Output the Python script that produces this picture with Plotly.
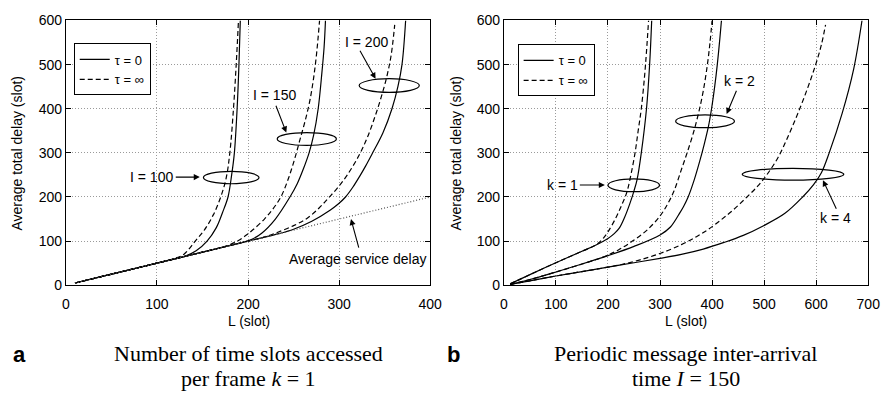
import plotly.graph_objects as go

# ---------------- data ----------------
# Panel a: k = 1, I = 100 / 150 / 200
a_i100_t0_L = [10, 50, 100, 115, 130, 143, 155, 165, 172, 178, 182, 185, 188, 190, 191.5]
a_i100_t0_D = [5, 25, 50, 57.5, 65, 78, 100, 130, 165, 200, 250, 300, 400, 500, 600]
a_i100_ti_L = [10, 50, 100, 110, 120, 130, 142, 152, 162, 170, 176, 180, 184, 187, 189.5]
a_i100_ti_D = [5, 25, 50, 55, 61, 71, 100, 125, 160, 200, 243, 300, 400, 500, 600]

a_i150_t0_L = [10, 50, 100, 150, 176, 190, 203, 215, 230, 246, 254, 261, 267, 272, 277, 281, 283.5, 285]
a_i150_t0_D = [5, 25, 50, 75, 88, 95, 103, 118, 150, 200, 230, 265, 300, 340, 400, 480, 540, 600]
a_i150_ti_L = [10, 50, 100, 150, 170, 180, 189, 197, 205, 218, 227, 236, 244, 251, 257, 263, 268, 272, 275.5, 278.5]
a_i150_ti_D = [5, 25, 50, 75, 85, 92, 101, 112, 125, 150, 172, 200, 240, 285, 330, 375, 420, 470, 530, 600]

a_i200_t0_L = [10, 50, 100, 150, 200, 234, 250, 270, 290, 299, 307, 315, 322, 329, 336, 348, 358, 364.5, 369, 373]
a_i200_t0_D = [5, 25, 50, 75, 100, 117, 127, 145, 170, 184, 200, 222, 245, 270, 297, 345, 400, 450, 500, 600]
a_i200_ti_L = [10, 50, 100, 150, 200, 216, 230, 250, 265, 278, 288, 298, 309, 322, 331, 339, 346, 352, 357, 361]
a_i200_ti_D = [5, 25, 50, 75, 100, 108, 118, 135, 152, 175, 197, 220, 250, 295, 335, 380, 425, 470, 520, 590]

service_L = [10, 400]
service_D = [5, 200]

# Panel b: I = 150, k = 1 / 2 / 4
b_k1_t0_L = [12, 50, 100, 150, 175, 190, 200, 212, 222, 232, 242, 250, 256, 264, 274, 280, 284]
b_k1_t0_D = [3, 24, 51, 77, 90, 99, 106, 117, 130, 154, 185, 214, 240, 300, 400, 500, 600]
b_k1_ti_L = [12, 50, 100, 150, 175, 183, 192, 200, 214, 225, 236, 244, 252, 258, 264, 270, 274, 278]
b_k1_ti_D = [3, 24, 51, 77, 90, 97, 108, 121, 150, 178, 210, 250, 300, 350, 400, 470, 530, 600]

b_k2_t0_L = [12, 50, 100, 150, 200, 250, 300, 320, 338, 345, 354, 366, 376, 385, 393, 399, 405, 410, 415, 418]
b_k2_t0_D = [2, 13, 30, 48, 67, 88, 114, 132, 164, 178, 200, 240, 280, 320, 360, 400, 450, 500, 560, 600]
b_k2_ti_L = [12, 50, 100, 150, 189, 220, 247, 275, 300, 315, 327, 341, 352, 364, 374, 383, 391, 396, 400]
b_k2_ti_D = [2, 13, 30, 48, 63, 80, 100, 125, 157, 185, 214, 262, 300, 345, 390, 440, 500, 550, 600]

b_k4_t0_L = [12, 50, 100, 150, 200, 250, 300, 341, 383, 423, 460, 499, 540, 574, 595, 610, 625, 650, 672, 688]
b_k4_t0_D = [2, 10, 21, 31, 41, 51, 61, 70, 82, 97, 113, 135, 163, 200, 228, 255, 300, 390, 490, 600]
b_k4_ti_L = [12, 50, 100, 150, 200, 226, 260, 300, 341, 370, 392, 417, 440, 467, 488, 505, 527, 547, 565, 583, 599, 610, 618]
b_k4_ti_D = [2, 10, 21, 31, 41, 47, 57, 72, 92, 110, 126, 148, 170, 200, 225, 250, 290, 340, 390, 445, 500, 545, 590]

y_ticks = [0, 100, 200, 300, 400, 500, 600]
xa_ticks = [0, 100, 200, 300, 400]
xb_ticks = [0, 100, 200, 300, 400, 500, 600, 700]
legend_names = ["\u03c4 = 0", "\u03c4 = \u221e"]

# ---------------- figure ----------------
W, H = 893, 393
FONT = "Liberation Sans, Arial, sans-serif"
SERIF = "Liberation Serif, Times New Roman, serif"
FS = 14

fig = go.Figure()

SOLID = dict(color="black", width=1.2, shape="spline", smoothing=1.0)
DASH = dict(color="black", width=1.2, dash="5px,3px", shape="spline", smoothing=1.0)


def add(L, D, style, xa, ya, name=None, legend=None):
    fig.add_trace(go.Scatter(
        x=L, y=D, mode="lines", line=style, xaxis=xa, yaxis=ya,
        name=name if name else "", showlegend=name is not None,
        legend=legend if legend else "legend", hoverinfo="skip"))


# panel a
add(a_i100_t0_L, a_i100_t0_D, SOLID, "x", "y", legend_names[0], "legend")
add(a_i100_ti_L, a_i100_ti_D, DASH, "x", "y", legend_names[1], "legend")
add(a_i150_t0_L, a_i150_t0_D, SOLID, "x", "y")
add(a_i150_ti_L, a_i150_ti_D, DASH, "x", "y")
add(a_i200_t0_L, a_i200_t0_D, SOLID, "x", "y")
add(a_i200_ti_L, a_i200_ti_D, DASH, "x", "y")
add(service_L, service_D, dict(color="#555", width=1.2, dash="1px,2px"), "x", "y")

# panel b
add(b_k1_t0_L, b_k1_t0_D, SOLID, "x2", "y2", legend_names[0], "legend2")
add(b_k1_ti_L, b_k1_ti_D, DASH, "x2", "y2", legend_names[1], "legend2")
add(b_k2_t0_L, b_k2_t0_D, SOLID, "x2", "y2")
add(b_k2_ti_L, b_k2_ti_D, DASH, "x2", "y2")
add(b_k4_t0_L, b_k4_t0_D, SOLID, "x2", "y2")
add(b_k4_ti_L, b_k4_ti_D, DASH, "x2", "y2")


def px(x):
    return x / W


def py(y):
    return (H - y) / H


axis_common = dict(
    showline=True, linecolor="black", linewidth=1, mirror="allticks",
    ticks="inside", ticklen=5, tickcolor="black", tickwidth=1,
    showgrid=True, gridcolor="#9a9a9a", griddash="1px,2px", gridwidth=1,
    zeroline=False, tickfont=dict(family=FONT, size=FS, color="black"),
)
xaxis_extra = dict(ticklabelstandoff=6)

leg_common = dict(xanchor="left", yanchor="top", bgcolor="white",
                  bordercolor="black", borderwidth=1,
                  font=dict(family=FONT, size=13), tracegroupgap=0, itemwidth=30)

fig.update_layout(
    width=W, height=H, margin=dict(l=0, r=0, t=0, b=0),
    plot_bgcolor="white", paper_bgcolor="white",
    font=dict(family=FONT, size=FS, color="black"),
    xaxis=dict(domain=[px(63), px(434)], range=[0, 400], tickvals=xa_ticks, anchor="y",
               **axis_common, **xaxis_extra),
    yaxis=dict(domain=[py(289), py(13)], range=[0, 600], tickvals=y_ticks, anchor="x", **axis_common),
    xaxis2=dict(domain=[px(509), px(880)], range=[0, 700], tickvals=xb_ticks, anchor="y2",
                **axis_common, **xaxis_extra),
    yaxis2=dict(domain=[py(289), py(13)], range=[0, 600], tickvals=y_ticks, anchor="x2", **axis_common),
    legend=dict(x=px(71), y=py(37), **leg_common),
    legend2=dict(x=px(523), y=py(38), **leg_common),
    showlegend=True,
)

# ellipses
ellipses = [
    ("x", "y", 151, 212, 230, 258),
    ("x", "y", 232, 297, 317, 346),
    ("x", "y", 322, 388, 437, 468),
    ("x2", "y2", 200, 299, 212, 241),
    ("x2", "y2", 330, 443, 357, 386),
    ("x2", "y2", 458, 653, 238, 265),
]
for xr, yr, x0, x1, y0, y1 in ellipses:
    fig.add_shape(type="circle", xref=xr, yref=yr, x0=x0, x1=x1, y0=y0, y1=y1,
                  line=dict(color="black", width=1.2), layer="above")

# arrows (tail -> head)
arrows = [
    ("x", "y", 119, 245, 147, 245),
    ("x", "y", 230, 410, 242, 346),
    ("x", "y", 322, 535, 340, 468),
    ("x", "y", 322, 82, 313, 150),
    ("x2", "y2", 143, 227, 194, 227),
    ("x2", "y2", 448, 444, 428, 388),
    ("x2", "y2", 640, 170, 613, 238),
]
for xr, yr, ax, ay, x, y in arrows:
    fig.add_annotation(xref=xr, yref=yr, axref=xr, ayref=yr, x=x, y=y, ax=ax, ay=ay,
                       text="", showarrow=True, arrowhead=2, arrowsize=1.1,
                       arrowwidth=1.1, arrowcolor="black", standoff=0, startstandoff=0)

labels = [
    ("x", "y", 94, 245, "I = 100"),
    ("x", "y", 229, 430, "I = 150"),
    ("x", "y", 330, 551, "I = 200"),
    ("x", "y", 320, 60, "Average service delay"),
    ("x2", "y2", 112, 227, "k = 1"),
    ("x2", "y2", 452, 462, "k = 2"),
    ("x2", "y2", 637, 152, "k = 4"),
]
for xr, yr, x, y, t in labels:
    fig.add_annotation(xref=xr, yref=yr, x=x, y=y, text=t, showarrow=False,
                       xanchor="center", yanchor="middle",
                       font=dict(family=FONT, size=FS, color="black"))

# axis titles
for cx in (249, 694):
    fig.add_annotation(xref="paper", yref="paper", x=px(cx), y=py(326), text="L (slot)",
                       xanchor="center", yanchor="middle",
                       showarrow=False, font=dict(family=FONT, size=FS))
for cx in (13, 460):
    fig.add_annotation(xref="paper", yref="paper", x=px(cx), y=py(151),
                       text="Average total delay (slot)", textangle=-90,
                       xanchor="center", yanchor="middle",
                       showarrow=False, font=dict(family=FONT, size=FS))

# panel letters and captions
for cx, t in ((16, "a"), (458, "b")):
    fig.add_annotation(xref="paper", yref="paper", x=px(cx), y=py(361), text="<b>%s</b>" % t,
                       xanchor="center", yanchor="middle",
                       showarrow=False, font=dict(family=FONT, size=22))
captions = [
    (249, 360, "Number of time slots accessed"),
    (249, 386, "per frame <i>k</i> = 1"),
    (694, 360, "Periodic message inter-arrival"),
    (694, 386, "time <i>I</i> = 150"),
]
for cx, cy, t in captions:
    fig.add_annotation(xref="paper", yref="paper", x=px(cx), y=py(cy), text=t,
                       xanchor="center", yanchor="middle",
                       showarrow=False, font=dict(family=SERIF, size=22))

fig.write_html("out.html")
